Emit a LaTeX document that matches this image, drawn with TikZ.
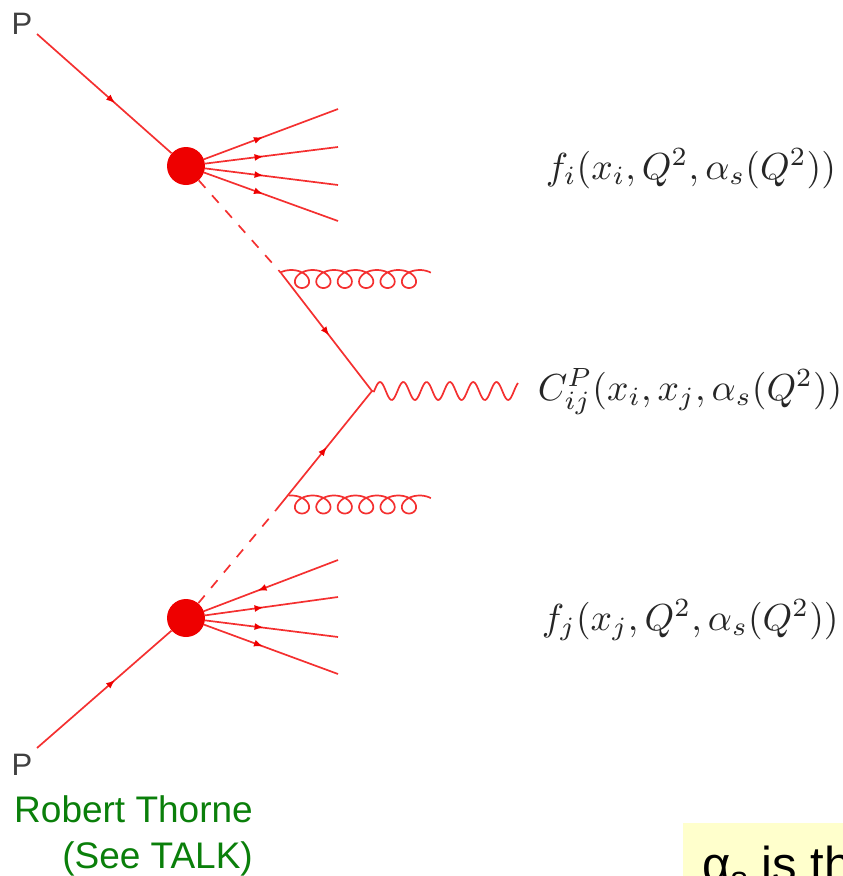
\documentclass[tikz,border=0pt]{standalone}
\usepackage{amsmath}
\usepackage{fontspec}
\setmainfont{Liberation Sans}
\usetikzlibrary{decorations.markings,arrows.meta}
\definecolor{fey}{HTML}{F43030}
\definecolor{blob}{HTML}{EE0000}
\definecolor{grn}{HTML}{0A7F0A}
\definecolor{note}{HTML}{FFFFCC}
\tikzset{
  line/.style={draw=fey,line width=1.7pt},
  dashline/.style={line,dash pattern=on 10pt off 10pt},
  fermion/.style={line,postaction={decorate},decoration={markings,mark=at position #1 with {\arrow[fill=blob,draw=blob]{Latex[length=9pt,width=7pt]}}}},
  fermion/.default=0.5,
  vertexblob/.style={circle,fill=blob,inner sep=0pt,minimum size=38pt},
  formula/.style={inner sep=0pt,anchor=base west,scale=3.76,text=black!85},
  plab/.style={inner sep=0pt,font=\fontsize{31}{31}\selectfont,text=black!75},
  credit/.style={inner sep=0pt,font=\fontsize{37}{40}\selectfont,text=grn,anchor=base east},
}
\begin{document}
\begin{tikzpicture}[x=1pt,y=-1pt]
\useasboundingbox (0,0) rectangle (843,876);
\clip (0,0) rectangle (843,876);
\coordinate (pt) at (37,34);
\coordinate (pb) at (37,748);
\node[vertexblob] (b1) at (186,166) {};
\node[vertexblob] (b2) at (186,618) {};
\coordinate (g1) at (281,273);
\coordinate (g2) at (276,510);
\coordinate (v) at (372,391);
\foreach \n/\x/\y in {a/338/109,b/338/147,c/338/185,d/338/221,e/338/560,f/338/597,g/338/637,h/338/674}{\coordinate (\n) at (\x,\y);}
\path[fermion=0.58] (pt) -- (b1);
\path[fermion=0.58] (pb) -- (b2);
\path[dashline] (b1) -- (g1);
\path[dashline] (b2) -- (g2);
\path[fermion=0.53] (g1) -- (v);
\path[fermion=0.53] (g2) -- (v);
\path[fermion=0.44] (b1) -- (a);
\path[fermion=0.44] (b1) -- (b);
\path[fermion=0.44] (b1) -- (c);
\path[fermion=0.44] (b1) -- (d);
\path[fermion=0.6] (e) -- (b2);
\path[fermion=0.44] (b2) -- (f);
\path[fermion=0.44] (b2) -- (g);
\path[fermion=0.44] (b2) -- (h);
% gluons
\draw[line] plot[smooth,samples=240,domain=-40:2205,variable=\t] ({291.3+0.05944*\t+12*sin(\t)},{279-9*cos(\t)});
\draw[line] plot[smooth,samples=240,domain=-10:2205,variable=\t] ({291.3+0.05944*\t+12*sin(\t)},{504.5-9*cos(\t)});
% photon
\draw[line] (v) -- plot[smooth,samples=120,domain=374:518,variable=\x] (\x,{391-9*cos(15.45*(\x-380))});
\node[plab] (p1) at (22,24) {P};
\node[plab] (p2) at (22,765) {P};
\node[formula] (f1) at (545,179) {$f_i(x_i,Q^2,\alpha_s(Q^2))$};
\node[formula] (f2) at (537,400) {$C_{ij}^P(x_i,x_j,\alpha_s(Q^2))$};
\node[formula] (f3) at (541,630) {$f_j(x_j,Q^2,\alpha_s(Q^2))$};
\node[credit] (c1) at (253,822) {Robert Thorne};
\node[credit] (c2) at (253,868) {(See TALK)};
\fill[note] (683,823) rectangle (843,876);
\node[inner sep=0pt,anchor=base west,font=\fontsize{49}{49}\selectfont,text=black] (n) at (702,881) {α\textsubscript{s} is th};
\end{tikzpicture}
\end{document}
